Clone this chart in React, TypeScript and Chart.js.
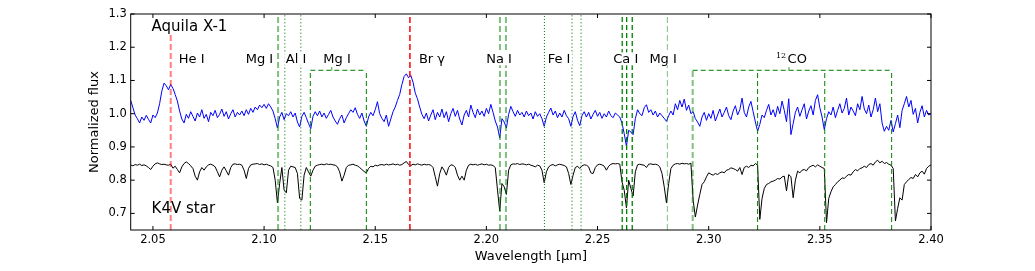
import React, { useEffect, useRef } from "react";
import { Chart, registerables } from "chart.js";

Chart.register(...registerables);

// ---------- data ----------
const WL_START = 2.04;
const WL_STEP = 0.001;

// Aquila X-1 normalized flux, 2.040 .. 2.400 um (step 0.001)
const aquilaFlux = [
  1.040, 1.018, 0.996, 0.985, 0.972, 0.990, 0.980, 0.995, 0.983, 0.972,
  0.996, 0.988, 1.002, 1.030, 1.068, 1.092, 1.084, 1.072, 1.088, 1.076,
  1.058, 1.038, 1.008, 0.984, 0.972, 0.998, 0.986, 1.006, 0.992, 0.978,
  1.002, 0.990, 1.012, 0.986, 0.998, 0.976, 1.004, 0.994, 1.010, 0.988,
  0.998, 1.014, 0.992, 1.006, 0.984, 1.000, 1.012, 0.990, 1.004, 0.996,
  1.008, 0.994, 1.012, 0.998, 1.016, 1.004, 1.020, 1.012, 1.026, 1.018,
  1.028, 1.016, 1.030, 1.020, 1.008, 0.985, 0.957, 0.990, 1.004, 0.982,
  1.000, 0.994, 1.006, 0.990, 1.002, 0.975, 0.960, 0.992, 1.004, 0.988,
  0.970, 0.955, 0.992, 1.006, 0.994, 1.008, 0.990, 1.002, 0.986, 0.998,
  1.010, 0.990, 0.978, 0.968, 0.985, 0.996, 0.972, 0.988, 1.000, 1.012,
  1.004, 1.018, 0.998, 0.986, 1.002, 0.978, 0.962, 0.990, 1.004, 0.994,
  1.012, 1.036, 1.000, 0.986, 0.976, 0.996, 0.962, 0.984, 1.006, 1.020,
  1.040, 1.058, 1.088, 1.112, 1.120, 1.108, 1.115, 1.095, 1.062, 1.045,
  1.020, 0.998, 0.985, 1.002, 0.978, 0.996, 1.012, 0.982, 1.004, 0.990,
  1.014, 0.988, 1.006, 0.976, 1.000, 1.016, 0.992, 1.010, 0.984, 0.966,
  0.996, 1.010, 0.990, 1.026, 1.004, 0.988, 1.014, 0.996, 1.008, 0.992,
  1.016, 1.000, 1.028, 1.004, 0.978, 0.960, 0.927, 0.985, 0.975, 0.957,
  0.998, 1.022, 1.006, 0.992, 1.010, 0.996, 1.004, 0.990, 1.008, 0.994,
  1.002, 0.984, 1.006, 0.992, 1.000, 0.985, 0.962, 0.990, 1.004, 1.017,
  0.996, 1.008, 0.988, 1.002, 0.990, 1.010, 0.994, 0.985, 0.962, 0.992,
  1.006, 0.980, 0.964, 0.994, 1.006, 0.990, 1.004, 0.984, 0.998, 1.010,
  0.992, 1.004, 0.986, 1.000, 0.990, 1.008, 0.994, 0.988, 1.002, 0.996,
  0.990, 0.972, 0.940, 0.902, 0.950, 0.945, 0.937, 0.985, 1.012, 1.000,
  0.994, 1.018, 1.027, 1.004, 1.012, 0.996, 1.008, 0.990, 1.002, 0.994,
  0.986, 0.977, 0.994, 1.008, 0.996, 1.030, 1.012, 1.040, 1.020, 1.044,
  1.010, 1.026, 1.000, 1.006, 0.985, 0.975, 0.962, 0.990, 1.004, 0.980,
  1.000, 0.986, 1.010, 0.978, 0.996, 1.014, 0.990, 1.004, 1.020, 0.994,
  0.982, 1.008, 1.024, 0.996, 1.012, 1.047, 1.004, 0.990, 1.020, 1.037,
  1.006, 0.975, 0.947, 0.968, 0.996, 0.988, 1.010, 1.028, 0.996, 1.012,
  0.990, 1.022, 1.000, 1.038, 1.010, 0.976, 1.045, 0.937, 0.970, 1.004,
  1.020, 0.992, 1.012, 1.030, 0.984, 1.008, 1.024, 0.996, 1.040, 1.057,
  1.018, 0.990, 0.952, 0.985, 1.006, 0.996, 1.020, 0.988, 1.010, 1.030,
  1.002, 1.016, 1.047, 0.996, 1.020, 1.008, 0.994, 1.030, 1.012, 1.052,
  1.014, 1.000, 1.026, 0.990, 1.012, 1.047, 1.006, 1.030, 0.972, 0.947,
  0.962, 0.950, 0.980, 0.945, 0.970, 0.996, 0.958, 1.010, 1.030, 1.052,
  1.020, 1.040, 0.998, 1.016, 0.972, 1.004, 1.024, 0.990, 1.010, 0.996,
  1.000,
];

// K4V template star normalized (offset) flux, 2.040 .. 2.400 um (step 0.001)
const k4vFlux = [
  0.846, 0.843, 0.847, 0.845, 0.848, 0.844, 0.846, 0.843, 0.838, 0.832,
  0.842, 0.849, 0.852, 0.849, 0.847, 0.848, 0.846, 0.845, 0.848, 0.836,
  0.842, 0.832, 0.822, 0.840, 0.850, 0.855, 0.850, 0.843, 0.835, 0.812,
  0.800, 0.825, 0.838, 0.830, 0.840, 0.846, 0.848, 0.845, 0.840, 0.825,
  0.810, 0.830, 0.840, 0.828, 0.815, 0.838, 0.848, 0.849, 0.847, 0.848,
  0.845, 0.830, 0.805, 0.835, 0.846, 0.848, 0.849, 0.850, 0.847, 0.849,
  0.846, 0.848, 0.845, 0.843, 0.838, 0.800, 0.732, 0.790, 0.838, 0.770,
  0.762, 0.830, 0.842, 0.840, 0.838, 0.820, 0.745, 0.740, 0.815, 0.838,
  0.825, 0.812, 0.830, 0.842, 0.845, 0.847, 0.848, 0.846, 0.849, 0.847,
  0.848, 0.846, 0.845, 0.840, 0.825, 0.797, 0.815, 0.838, 0.845, 0.846,
  0.848, 0.845, 0.843, 0.838, 0.832, 0.826, 0.822, 0.835, 0.842, 0.840,
  0.845, 0.843, 0.846, 0.847, 0.845, 0.848, 0.846, 0.847, 0.849, 0.846,
  0.848, 0.845, 0.847, 0.852, 0.856, 0.847, 0.844, 0.848, 0.846, 0.849,
  0.847, 0.845, 0.848, 0.846, 0.847, 0.845, 0.838, 0.810, 0.782, 0.820,
  0.840, 0.830, 0.815, 0.838, 0.846, 0.845, 0.838, 0.815, 0.800, 0.812,
  0.800, 0.830, 0.845, 0.848, 0.846, 0.848, 0.845, 0.847, 0.849, 0.846,
  0.848, 0.845, 0.846, 0.844, 0.838, 0.770, 0.707, 0.790, 0.780, 0.757,
  0.830, 0.846, 0.849, 0.848, 0.850, 0.847, 0.849, 0.848, 0.846, 0.848,
  0.845, 0.843, 0.840, 0.845, 0.843, 0.830, 0.792, 0.825, 0.840, 0.845,
  0.847, 0.843, 0.846, 0.848, 0.846, 0.844, 0.840, 0.820, 0.787, 0.815,
  0.838, 0.842, 0.835, 0.843, 0.846, 0.845, 0.840, 0.822, 0.820, 0.838,
  0.846, 0.848, 0.846, 0.842, 0.830, 0.842, 0.848, 0.850, 0.849, 0.850,
  0.848, 0.795, 0.770, 0.717, 0.800, 0.775, 0.752, 0.825, 0.846, 0.848,
  0.846, 0.845, 0.838, 0.848, 0.849, 0.847, 0.848, 0.846, 0.840, 0.820,
  0.780, 0.732, 0.790, 0.835, 0.845, 0.849, 0.850, 0.848, 0.851, 0.849,
  0.850, 0.848, 0.851, 0.740, 0.689, 0.725, 0.757, 0.787, 0.795, 0.810,
  0.822, 0.818, 0.815, 0.820, 0.817, 0.822, 0.825, 0.822, 0.830, 0.832,
  0.837, 0.835, 0.832, 0.827, 0.838, 0.817, 0.838, 0.842, 0.838, 0.845,
  0.843, 0.850, 0.845, 0.682, 0.745, 0.775, 0.787, 0.790, 0.795, 0.797,
  0.800, 0.805, 0.803, 0.810, 0.812, 0.768, 0.817, 0.810, 0.747, 0.800,
  0.827, 0.822, 0.830, 0.832, 0.828, 0.838, 0.842, 0.845, 0.840, 0.846,
  0.842, 0.838, 0.835, 0.672, 0.745, 0.765, 0.780, 0.787, 0.795, 0.800,
  0.807, 0.805, 0.812, 0.817, 0.815, 0.825, 0.832, 0.828, 0.835, 0.837,
  0.842, 0.838, 0.847, 0.850, 0.845, 0.855, 0.860, 0.852, 0.857, 0.850,
  0.853, 0.848, 0.845, 0.835, 0.677, 0.715, 0.747, 0.740, 0.787, 0.795,
  0.802, 0.808, 0.805, 0.817, 0.810, 0.822, 0.827, 0.818, 0.835, 0.842,
  0.846,
];

const wavelengthTicks = [2.05, 2.1, 2.15, 2.2, 2.25, 2.3, 2.35, 2.4];
const fluxTicks = [0.7, 0.8, 0.9, 1.0, 1.1, 1.2, 1.3];

// spectral line markers (um)
const heILines = [2.058];
const brGammaLines = [2.1656];
const mgIStrongLines = [2.1063];
const alILines = [2.1093, 2.1165];
const mgIBoxEdges = [2.1208, 2.146];
const naILines = [2.2061, 2.2088];
const feIDarkLines = [2.2261];
const feILightLines = [2.2385, 2.2426];
const caILines = [2.2611, 2.2631, 2.2656];
const mgIThinLines = [2.2814];
const coBandheads = [2.2928, 2.322, 2.3522, 2.3823];
const labelTickWl = [2.1304, 2.3361];

const FLUX_MIN = 0.65;
const FLUX_MAX = 1.3;
const BOX_TOP = 1.1306;
const LABEL_TICK_TOP = 1.1405;
const HEI_TOP = 1.243;

const lineLabels = ["He I", "Mg I", "Al I", "Mg I", "Br \u03b3", "Na I", "Fe I", "Ca I", "Mg I"];
const lineLabelWl = [2.0674, 2.0979, 2.1144, 2.1328, 2.1755, 2.2057, 2.2327, 2.2627, 2.2795];
const coLabelWl = 2.3355;
const LABEL_FLUX = 1.1516;
const starNames = ["Aquila X-1", "K4V star"];
const starNameWl = [2.0494, 2.0494];
const starNameFlux = [1.2497, 0.7002];

// ---------- styling ----------
const FONT = "'DejaVu Sans', 'Liberation Sans', sans-serif";
const RED = "#ff0000";
const RED_LIGHT = "rgba(255,0,0,0.5)";
const GREEN = "#008000";
const GREEN_LIGHT = "rgba(0,128,0,0.5)";

type Pt = { x: number; y: number };

function seg(points: Pt[], color: string, width: number, dash: number[]) {
  return {
    data: points,
    borderColor: color,
    borderWidth: width,
    borderDash: dash,
    pointRadius: 0,
    tension: 0,
    fill: false,
    order: 1,
  };
}

function vlines(wls: number[], top: number, color: string, width: number, dash: number[]) {
  return wls.map((wl) => seg([{ x: wl, y: FLUX_MIN }, { x: wl, y: top }], color, width, dash));
}

const overlayPlugin = {
  id: "overlay",
  afterDatasetsDraw(chart: any) {
    const { ctx, scales } = chart;
    const xs = scales.x;
    const ys = scales.y;
    ctx.save();
    // line labels with white boxes
    ctx.font = `13px ${FONT}`;
    ctx.textBaseline = "alphabetic";
    ctx.textAlign = "center";
    const py = ys.getPixelForValue(LABEL_FLUX);
    lineLabels.forEach((t, i) => {
      const px = xs.getPixelForValue(lineLabelWl[i]);
      const w = ctx.measureText(t).width;
      ctx.fillStyle = "#ffffff";
      ctx.fillRect(px - w / 2 - 1.5, py - 11, w + 3, 13);
      ctx.fillStyle = "#000000";
      ctx.fillText(t, px, py);
    });
    // 12CO label
    {
      const px = xs.getPixelForValue(coLabelWl);
      ctx.font = `13px ${FONT}`;
      const wCO = ctx.measureText("CO").width;
      ctx.font = `8px 'DejaVu Serif', serif`;
      const w12 = ctx.measureText("12").width;
      ctx.fillStyle = "#ffffff";
      ctx.fillRect(px - w12 - 3, py - 13, w12 + wCO + 5, 15);
      ctx.fillStyle = "#000000";
      ctx.textAlign = "right";
      ctx.fillText("12", px - 1.5, py - 5);
      ctx.font = `13px ${FONT}`;
      ctx.textAlign = "left";
      ctx.fillText("CO", px, py);
    }
    // star names
    ctx.font = `15px ${FONT}`;
    ctx.textAlign = "left";
    starNames.forEach((t, i) => {
      const px = xs.getPixelForValue(starNameWl[i]);
      const sy = ys.getPixelForValue(starNameFlux[i]);
      ctx.fillStyle = "#000000";
      ctx.fillText(t, px, sy);
    });
    ctx.restore();
  },
  afterDraw(chart: any) {
    const { ctx, chartArea: a, scales } = chart;
    const xs = scales.x;
    const ys = scales.y;
    ctx.save();
    ctx.strokeStyle = "#000000";
    ctx.lineWidth = 1;
    ctx.strokeRect(a.left, a.top, a.right - a.left, a.bottom - a.top);
    const TL = 4;
    ctx.beginPath();
    wavelengthTicks.forEach((v) => {
      const px = xs.getPixelForValue(v);
      ctx.moveTo(px, a.bottom);
      ctx.lineTo(px, a.bottom - TL);
      ctx.moveTo(px, a.top);
      ctx.lineTo(px, a.top + TL);
    });
    fluxTicks.forEach((v) => {
      const p = ys.getPixelForValue(v);
      ctx.moveTo(a.left, p);
      ctx.lineTo(a.left + TL, p);
      ctx.moveTo(a.right, p);
      ctx.lineTo(a.right - TL, p);
    });
    ctx.stroke();
    ctx.restore();
  },
};

export default function App() {
  const canvasRef = useRef<HTMLCanvasElement | null>(null);

  useEffect(() => {
    const canvas = canvasRef.current;
    if (!canvas) return;

    const aquilaData = aquilaFlux.map((f, i) => ({ x: WL_START + i * WL_STEP, y: f }));
    const k4vData = k4vFlux.map((f, i) => ({ x: WL_START + i * WL_STEP, y: f }));

    const datasets: any[] = [
      ...vlines(heILines, HEI_TOP, RED_LIGHT, 2, [6, 3]),
      ...vlines(brGammaLines, FLUX_MAX, RED, 1.5, [6, 3]),
      ...vlines(mgIStrongLines, FLUX_MAX, GREEN_LIGHT, 2, [6, 3]),
      ...vlines(alILines, FLUX_MAX, GREEN_LIGHT, 1.5, [1.5, 2]),
      ...vlines(mgIBoxEdges, BOX_TOP, GREEN, 1, [5, 3]),
      seg([{ x: mgIBoxEdges[0], y: BOX_TOP }, { x: mgIBoxEdges[1], y: BOX_TOP }], GREEN, 1, [5, 3]),
      ...vlines(naILines, FLUX_MAX, GREEN_LIGHT, 2, [6, 3]),
      ...vlines(feIDarkLines, FLUX_MAX, GREEN, 1, [1, 2]),
      ...vlines(feILightLines, FLUX_MAX, GREEN_LIGHT, 1.5, [1.5, 2]),
      ...vlines(caILines, FLUX_MAX, GREEN, 1.3, [5, 3]),
      ...vlines(mgIThinLines, FLUX_MAX, GREEN_LIGHT, 1, [6, 3]),
      ...vlines(coBandheads.slice(0, 1), BOX_TOP, GREEN_LIGHT, 2, [6, 3]),
      ...vlines(coBandheads.slice(1), BOX_TOP, GREEN, 1, [5, 3]),
      seg([{ x: coBandheads[0], y: BOX_TOP }, { x: coBandheads[coBandheads.length - 1], y: BOX_TOP }], GREEN, 1, [5, 3]),
      ...labelTickWl.map((wl) => seg([{ x: wl, y: BOX_TOP }, { x: wl, y: LABEL_TICK_TOP }], GREEN_LIGHT, 1.5, [])),
      {
        label: "Aquila X-1",
        data: aquilaData,
        borderColor: "#0000ff",
        borderWidth: 1,
        pointRadius: 0,
        tension: 0,
        fill: false,
        order: 2,
      },
      {
        label: "K4V star",
        data: k4vData,
        borderColor: "#000000",
        borderWidth: 1,
        pointRadius: 0,
        tension: 0,
        fill: false,
        order: 2,
      },
    ];

    const chart = new Chart(canvas, {
      type: "line",
      data: { datasets },
      options: {
        animation: false,
        responsive: false,
        devicePixelRatio: 1,
        layout: { padding: { top: 14, right: 104, left: 0, bottom: 0 } },
        plugins: {
          legend: { display: false },
          tooltip: { enabled: false },
        },
        events: [],
        scales: {
          x: {
            type: "linear",
            min: WL_START,
            max: 2.4,
            afterBuildTicks: (s: any) => {
              s.ticks = wavelengthTicks.map((v) => ({ value: v }));
            },
            afterFit: (s: any) => {
              s.height = 41;
            },
            grid: { display: false, drawTicks: false },
            border: { display: false },
            ticks: {
              padding: 3,
              color: "#000000",
              font: { family: FONT, size: 11.5 },
              autoSkip: false,
              maxRotation: 0,
              callback: (v: any) => Number(v).toFixed(2),
            },
            title: {
              display: true,
              text: "Wavelength [\u03bcm]",
              color: "#000000",
              font: { family: FONT, size: 13 },
              padding: { top: 0, bottom: 6.5 },
            },
          },
          y: {
            type: "linear",
            min: FLUX_MIN,
            max: FLUX_MAX,
            afterBuildTicks: (s: any) => {
              s.ticks = fluxTicks.map((v) => ({ value: v }));
            },
            afterFit: (s: any) => {
              s.width = 130.7;
            },
            grid: { display: false, drawTicks: false },
            border: { display: false },
            ticks: {
              padding: 4,
              color: "#000000",
              font: { family: FONT, size: 11.5 },
              callback: (v: any) => Number(v).toFixed(1),
            },
            title: {
              display: true,
              text: "Normalized flux",
              color: "#000000",
              font: { family: FONT, size: 13 },
              padding: { top: 87, bottom: 0 },
            },
          },
        },
      } as any,
      plugins: [overlayPlugin],
    });

    return () => chart.destroy();
  }, []);

  return (
    <div style={{ position: "fixed", left: 0, top: 0, width: 1035, height: 271, background: "#ffffff" }}>
      <canvas ref={canvasRef} width={1035} height={271} style={{ width: 1035, height: 271, display: "block" }} />
    </div>
  );
}
